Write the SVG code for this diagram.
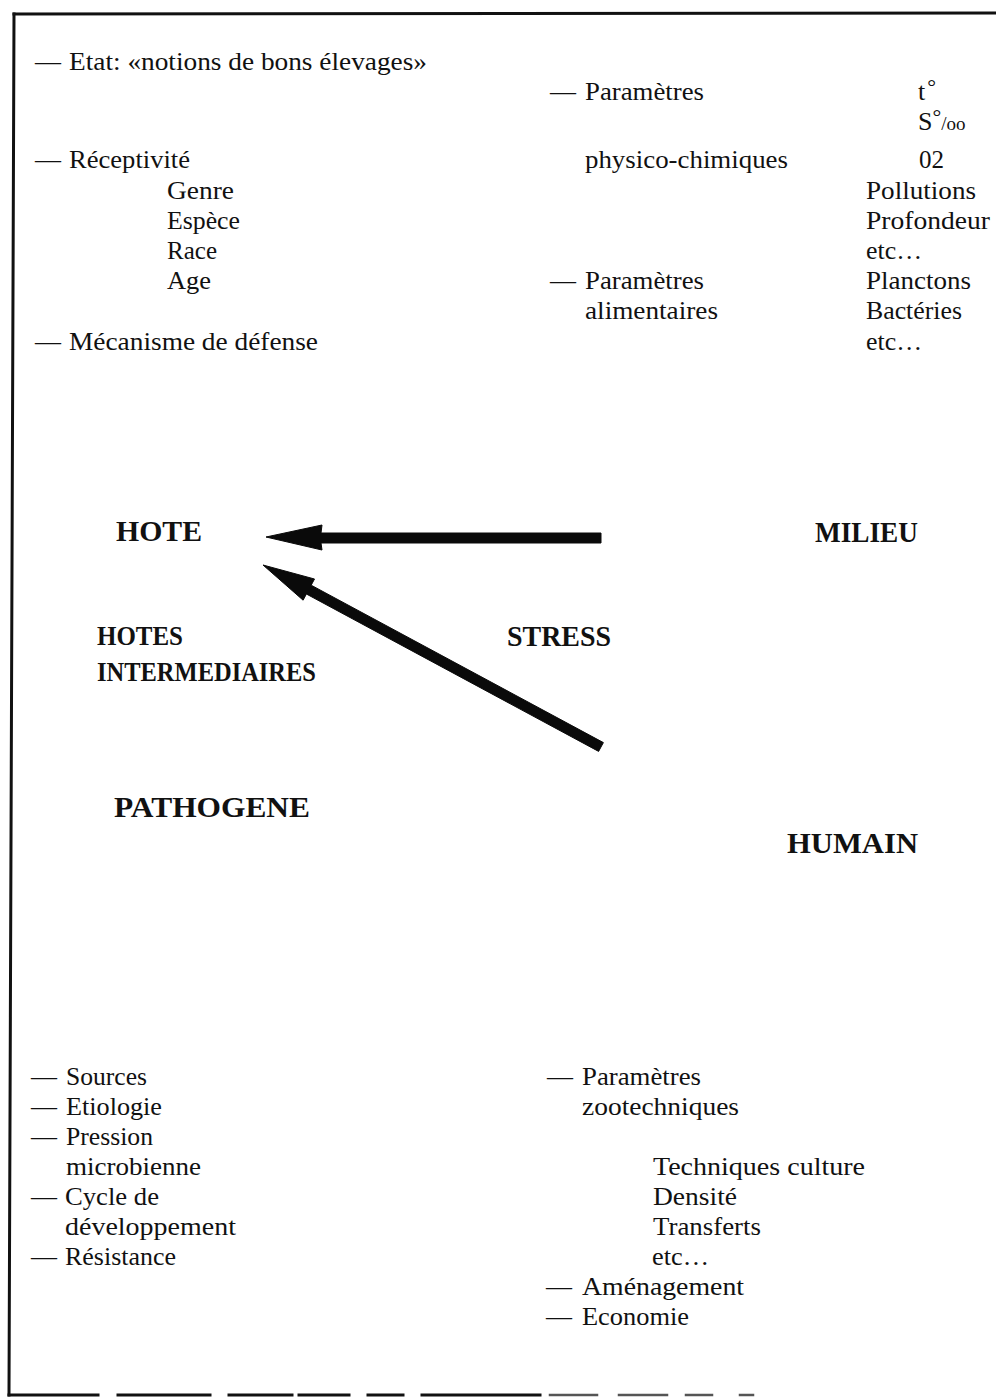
<svg xmlns="http://www.w3.org/2000/svg" width="996" height="1397" viewBox="0 0 996 1397">
<style>
text{font-family:"Liberation Serif","Times New Roman",serif;fill:#111;}
.t{font-size:26px;}
.b{font-size:30px;font-weight:bold;}
.bs{font-size:27px;font-weight:bold;}
.frame{fill:none;stroke:#111;stroke-width:3;stroke-linecap:square;}
.arrow{fill:#0a0a0a;stroke:#0a0a0a;stroke-width:1;stroke-linejoin:round;}
</style>
<rect width="996" height="1397" fill="#fff"/>
<g id="frame">
<path class="frame" d="M14,14 L996,13"/>
<path class="frame" d="M14,14 L9,1395"/>
<path class="frame" d="M9,1395 H98 M118,1395 H210 M229,1395 H292 M299,1395 H349 M368,1395 H403 M422,1395 H540"/>
<path class="frame" style="stroke:#555;stroke-width:2.5" d="M550,1395 H597 M619,1395 H667 M686,1395 H712 M740,1395 H753"/>
</g>
<g id="hote-facteurs">
<text class="t" x="35" y="70" textLength="23">—</text>
<text class="t" x="69" y="70" textLength="358" lengthAdjust="spacingAndGlyphs">Etat: «notions de bons élevages»</text>
<text class="t" x="35" y="168" textLength="23">—</text>
<text class="t" x="69" y="168" textLength="121" lengthAdjust="spacingAndGlyphs">Réceptivité</text>
<text class="t" x="167" y="199" textLength="67" lengthAdjust="spacingAndGlyphs">Genre</text>
<text class="t" x="167" y="229" textLength="73" lengthAdjust="spacingAndGlyphs">Espèce</text>
<text class="t" x="167" y="259" textLength="50" lengthAdjust="spacingAndGlyphs">Race</text>
<text class="t" x="167" y="289" textLength="44" lengthAdjust="spacingAndGlyphs">Age</text>
<text class="t" x="35" y="350" textLength="23">—</text>
<text class="t" x="69" y="350" textLength="249" lengthAdjust="spacingAndGlyphs">Mécanisme de défense</text>
</g>
<g id="milieu-facteurs">
<text class="t" x="550" y="100" textLength="24">—</text>
<text class="t" x="585" y="100" textLength="119" lengthAdjust="spacingAndGlyphs">Paramètres</text>
<text class="t" x="918" y="100">t<tspan dx="2" dy="-6" font-size="22">°</tspan></text>
<text class="t" x="918" y="130">S<tspan dy="-6" font-size="22">°</tspan><tspan dy="6" font-size="19">/oo</tspan></text>
<text class="t" x="585" y="168" textLength="203" lengthAdjust="spacingAndGlyphs">physico-chimiques</text>
<text class="t" x="919" y="168" textLength="25" lengthAdjust="spacingAndGlyphs">02</text>
<text class="t" x="866" y="199" textLength="110" lengthAdjust="spacingAndGlyphs">Pollutions</text>
<text class="t" x="866" y="229" textLength="124" lengthAdjust="spacingAndGlyphs">Profondeur</text>
<text class="t" x="866" y="259" textLength="56" lengthAdjust="spacingAndGlyphs">etc…</text>
<text class="t" x="550" y="289" textLength="24">—</text>
<text class="t" x="585" y="289" textLength="119" lengthAdjust="spacingAndGlyphs">Paramètres</text>
<text class="t" x="866" y="289" textLength="105" lengthAdjust="spacingAndGlyphs">Planctons</text>
<text class="t" x="585" y="319" textLength="133" lengthAdjust="spacingAndGlyphs">alimentaires</text>
<text class="t" x="866" y="319" textLength="96" lengthAdjust="spacingAndGlyphs">Bactéries</text>
<text class="t" x="866" y="350" textLength="56" lengthAdjust="spacingAndGlyphs">etc…</text>
</g>
<g id="hote"><text class="b" x="116" y="541" textLength="86" lengthAdjust="spacingAndGlyphs">HOTE</text></g>
<g id="milieu"><text class="b" x="815" y="542" textLength="103" lengthAdjust="spacingAndGlyphs">MILIEU</text></g>
<g id="hotes-intermediaires">
<text class="bs" x="97" y="645" textLength="86" lengthAdjust="spacingAndGlyphs">HOTES</text>
<text class="bs" x="97" y="681" textLength="219" lengthAdjust="spacingAndGlyphs">INTERMEDIAIRES</text>
</g>
<g id="stress"><text class="b" x="507" y="646" textLength="104" lengthAdjust="spacingAndGlyphs">STRESS</text></g>
<g id="pathogene"><text class="b" x="114" y="817" textLength="196" lengthAdjust="spacingAndGlyphs">PATHOGENE</text></g>
<g id="humain"><text class="b" x="787" y="853" textLength="131" lengthAdjust="spacingAndGlyphs">HUMAIN</text></g>
<g id="connectors">
<path class="arrow" d="M266,537 L322,525 L321,533 L601,533 L601,543 L321,543 L322,550 Z"/>
<path class="arrow" d="M263,565 L314.5,579 L311.2,585.2 L603.4,742.6 L598.6,751.4 L306.4,594 L303.1,600.2 Z"/>
</g>
<g id="pathogene-facteurs">
<text class="t" x="31" y="1085" textLength="24">—</text>
<text class="t" x="66" y="1085" textLength="81" lengthAdjust="spacingAndGlyphs">Sources</text>
<text class="t" x="31" y="1115" textLength="24">—</text>
<text class="t" x="66" y="1115" textLength="96" lengthAdjust="spacingAndGlyphs">Etiologie</text>
<text class="t" x="31" y="1145" textLength="24">—</text>
<text class="t" x="66" y="1145" textLength="87" lengthAdjust="spacingAndGlyphs">Pression</text>
<text class="t" x="66" y="1175" textLength="135" lengthAdjust="spacingAndGlyphs">microbienne</text>
<text class="t" x="31" y="1205" textLength="24">—</text>
<text class="t" x="65" y="1205" textLength="94" lengthAdjust="spacingAndGlyphs">Cycle de</text>
<text class="t" x="65" y="1235" textLength="171" lengthAdjust="spacingAndGlyphs">développement</text>
<text class="t" x="31" y="1265" textLength="24">—</text>
<text class="t" x="65" y="1265" textLength="111" lengthAdjust="spacingAndGlyphs">Résistance</text>
</g>
<g id="humain-facteurs">
<text class="t" x="547" y="1085" textLength="23">—</text>
<text class="t" x="582" y="1085" textLength="119" lengthAdjust="spacingAndGlyphs">Paramètres</text>
<text class="t" x="582" y="1115" textLength="157" lengthAdjust="spacingAndGlyphs">zootechniques</text>
<text class="t" x="653" y="1175" textLength="212" lengthAdjust="spacingAndGlyphs">Techniques culture</text>
<text class="t" x="653" y="1205" textLength="84" lengthAdjust="spacingAndGlyphs">Densité</text>
<text class="t" x="653" y="1235" textLength="108" lengthAdjust="spacingAndGlyphs">Transferts</text>
<text class="t" x="652" y="1265" textLength="57" lengthAdjust="spacingAndGlyphs">etc…</text>
<text class="t" x="546" y="1295" textLength="24">—</text>
<text class="t" x="582" y="1295" textLength="162" lengthAdjust="spacingAndGlyphs">Aménagement</text>
<text class="t" x="546" y="1325" textLength="24">—</text>
<text class="t" x="582" y="1325" textLength="107" lengthAdjust="spacingAndGlyphs">Economie</text>
</g>
</svg>
